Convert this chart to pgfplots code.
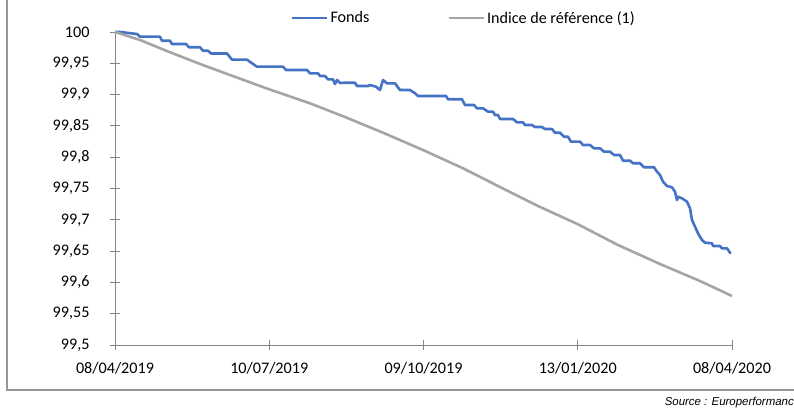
\documentclass[border=0pt]{standalone}
\usepackage{fontspec}
\setmainfont{Carlito}
\newfontfamily\arialfont{Liberation Sans}
\usepackage{pgfplots}
\pgfplotsset{compat=1.18}
\definecolor{fonds}{RGB}{68,114,196}
\definecolor{indice}{RGB}{165,165,165}
\definecolor{axisgray}{RGB}{134,134,134}
\definecolor{framegray}{RGB}{150,150,150}
\begin{document}
\begin{tikzpicture}
\path[use as bounding box] (0bp,0bp) rectangle (794bp,411bp);
\draw[framegray, line width=1.5bp] (7bp,415bp) -- (7bp,21bp) -- (800bp,21bp);
\node[anchor=east, font=\arialfont\itshape\fontsize{11.5}{13}\selectfont, inner sep=0pt] at (794bp,8bp) {Source : Europerformanc};
\begin{axis}[
  at={(115bp,66bp)}, anchor=south west, scale only axis, width=617bp, height=313bp,
  xmin=0, xmax=617, ymin=99.5, ymax=100,
  axis lines=left, axis line style={axisgray, line width=0.9bp, -},
  tick style={axisgray, line width=0.9bp}, major tick length=10bp, tick align=center,
  xtick={0,154.25,308.5,462.75,617},
  xticklabels={08/04/2019,10/07/2019,09/10/2019,13/01/2020,08/04/2020},
  ytick={99.5,99.55,99.6,99.65,99.7,99.75,99.8,99.85,99.9,99.95,100},
  yticklabels={{99,5},{99,55},{99,6},{99,65},{99,7},{99,75},{99,8},{99,85},{99,9},{99,95},{100}},
  tick label style={font=\fontsize{16.2}{19}\selectfont, text=black},
  yticklabel style={xshift=-17bp},
  xticklabel style={yshift=-9bp},
  legend style={at={(0.28,1.045)}, anchor=west, draw=none, fill=none,
    font=\fontsize{16.2}{19}\selectfont, legend columns=2,
    /tikz/every even column/.append style={column sep=76bp}},
  legend image code/.code={\draw[#1] (0,0) -- (35bp,0);},
  clip=false,
]
\addplot[fonds, line width=2.6bp, line join=round] table {
x y
0 100.0000
5 100.0000
22 99.9968
25 99.9925
45 99.9925
47 99.9861
55 99.9861
57 99.9808
71 99.9808
74 99.9756
85 99.9756
88 99.9701
93 99.9701
96 99.9657
112 99.9657
117 99.9558
132 99.9558
137 99.9500
142 99.9446
168 99.9446
171 99.9393
192 99.9393
195 99.9340
203 99.9340
205 99.9297
210 99.9297
213 99.9244
218 99.9244
220 99.9169
222 99.9233
225 99.9185
230 99.9190
240 99.9190
242 99.9137
253 99.9137
255 99.9153
261 99.9126
265 99.9073
268 99.9233
272 99.9180
280 99.9180
285 99.9073
295 99.9073
300 99.9021
303 99.8978
331 99.8978
333 99.8925
347 99.8925
350 99.8834
359 99.8834
362 99.8781
368 99.8781
373 99.8727
378 99.8727
380 99.8674
383 99.8674
385 99.8610
398 99.8610
402 99.8557
408 99.8557
410 99.8514
417 99.8514
420 99.8482
427 99.8482
430 99.8450
437 99.8450
440 99.8391
445 99.8391
449 99.8327
453 99.8327
456 99.8248
465 99.8248
468 99.8195
475 99.8195
479 99.8142
485 99.8142
489 99.8088
495 99.8088
499 99.8035
505 99.8035
508 99.7944
515 99.7944
518 99.7903
525 99.7903
529 99.7839
539 99.7839
542 99.7768
545 99.7716
548 99.7609
552 99.7540
557 99.7519
560 99.7449
562 99.7316
563 99.7369
567 99.7343
572 99.7289
575 99.7184
577 99.6997
580 99.6890
583 99.6784
587 99.6677
590 99.6634
597 99.6625
598 99.6581
605 99.6581
607 99.6544
612 99.6544
615 99.6474
616 99.6465
};
\addlegendentry{Fonds}
\addplot[indice, line width=2.6bp, line join=round] table {
x y
0 100.0000
25 99.9872
52 99.9696
85 99.9489
115 99.9313
154 99.9085
195 99.8861
230 99.8642
268 99.8391
308 99.8115
348 99.7823
385 99.7524
423 99.7220
463 99.6928
503 99.6597
545 99.6294
585 99.6022
617 99.5783
};
\addlegendentry{Indice de référence (1)}
\end{axis}
\end{tikzpicture}
\end{document}
